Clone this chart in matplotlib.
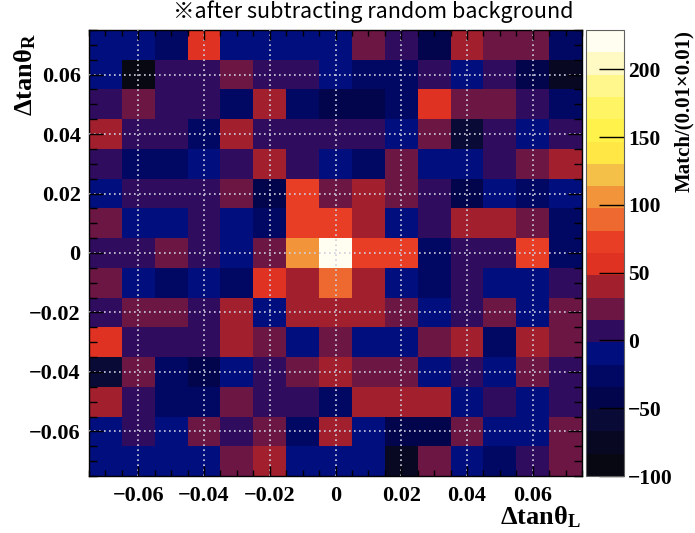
import numpy as np
import matplotlib
matplotlib.use("Agg")
import matplotlib.pyplot as plt
from matplotlib.colors import ListedColormap, BoundaryNorm
from matplotlib.ticker import MultipleLocator, FixedLocator

plt.rcParams['mathtext.fontset'] = 'custom'
plt.rcParams['mathtext.rm'] = 'Liberation Serif:bold'
plt.rcParams['mathtext.it'] = 'Liberation Serif:bold'
plt.rcParams['mathtext.bf'] = 'Liberation Serif:bold'

# bin edges (dtan theta_L on x, dtan theta_R on y)
x_edges = np.linspace(-0.075, 0.075, 16)
y_edges = np.linspace(-0.075, 0.075, 16)

# matches per bin, rows listed from top (y = 0.07) to bottom (y = -0.07)
row_p070 = [-10, -10, -26, 56, -10, -10, -10, -10, 23, 7, -42, 40, 23, 23, -26]
row_p060 = [-10, -92, 7, 7, 23, 7, 7, -10, -26, -26, 7, -10, 7, -42, -75]
row_p050 = [7, 23, 7, 7, -26, 40, -26, -42, -42, -26, 56, 23, 23, 7, -26]
row_p040 = [40, 7, 7, -26, 40, 7, 7, 7, 7, -10, 23, -59, 7, -10, 7]
row_p030 = [7, -26, -26, -10, 7, 40, 7, -10, -26, 23, -10, -10, 7, 23, 40]
row_p020 = [-10, 7, 7, 7, 23, -42, 73, 23, 40, 23, 7, -42, -10, -26, -10]
row_p010 = [23, -10, -10, 7, -10, -26, 73, 73, 40, -10, 7, 40, 40, 23, -26]
row_000 = [7, 7, 23, 7, -10, 23, 106, 228, 73, 73, -26, 7, 7, 73, -26]
row_m010 = [23, -10, -26, -10, -26, 56, 40, 89, 40, -10, -26, 7, -10, -10, 7]
row_m020 = [7, 23, 23, 7, 40, -10, 40, 40, 40, 23, -10, 7, 23, -10, 23]
row_m030 = [56, 7, 7, 7, 40, 23, -10, 23, -10, -10, 23, 40, -26, 40, 23]
row_m040 = [-59, 23, -26, -42, -10, 7, 23, 40, 23, 23, -10, 7, -10, 23, 7]
row_m050 = [40, 7, -26, -26, 23, 7, 7, -26, 40, 40, 40, -10, 7, -10, 7]
row_m060 = [-10, 7, -10, 23, 7, 23, -26, 40, -10, -42, -42, 23, -10, -10, 23]
row_m070 = [-10, -10, -10, -10, 23, 40, -10, -10, -10, -75, 23, -10, -26, 7, 23]

rows_top_to_bottom = [row_p070, row_p060, row_p050, row_p040, row_p030, row_p020,
                      row_p010, row_000, row_m010, row_m020, row_m030, row_m040,
                      row_m050, row_m060, row_m070]

z_min, z_max = -100, 229
n_levels = 20

palette = [(8, 8, 18), (8, 8, 35), (10, 10, 55), (2, 5, 75), (0, 8, 100),
           (0, 15, 125), (48, 12, 95), (108, 22, 68), (162, 32, 45), (224, 50, 35),
           (232, 62, 38), (238, 105, 48), (242, 148, 58), (244, 192, 72), (255, 232, 70),
           (255, 242, 75), (255, 245, 100), (255, 247, 140), (255, 250, 195), (255, 254, 240)]

x_ticks = [-0.06, -0.04, -0.02, 0, 0.02, 0.04, 0.06]
x_ticklabels = ['\u22120.06', '\u22120.04', '\u22120.02', '0', '0.02', '0.04', '0.06']
y_ticks = x_ticks
y_ticklabels = x_ticklabels
cb_ticks = [-100, -50, 0, 50, 100, 150, 200]
cb_ticklabels = ['\u2212100', '\u221250', '0', '50', '100', '150', '200']

Z = np.array(rows_top_to_bottom[::-1], dtype=float)

W, H = 695, 533
fig = plt.figure(figsize=(W / 100, H / 100), dpi=100)
ax = fig.add_axes([89 / W, 1 - 476 / H, 493 / W, 446 / H])
cax = fig.add_axes([586 / W, 1 - 476 / H, 38 / W, 446 / H])

cmap = ListedColormap([tuple(c / 255 for c in rgb) for rgb in palette])
levels = np.linspace(z_min, z_max, n_levels + 1)
norm = BoundaryNorm(levels, cmap.N)

mesh = ax.pcolormesh(x_edges, y_edges, Z, cmap=cmap, norm=norm)
ax.set_xlim(-0.075, 0.075)
ax.set_ylim(-0.075, 0.075)

tfont = dict(family='Liberation Serif', weight='bold', size=16)
ax.set_xticks(x_ticks)
ax.set_xticklabels(x_ticklabels, fontdict=tfont)
ax.set_yticks(y_ticks)
ax.set_yticklabels(y_ticklabels, fontdict=tfont)
ax.xaxis.set_minor_locator(MultipleLocator(0.005))
ax.yaxis.set_minor_locator(MultipleLocator(0.005))
ax.tick_params(axis='x', which='major', direction='in', length=7, width=1, top=True, bottom=True, pad=7)
ax.tick_params(axis='x', which='minor', direction='in', length=4, width=1, top=True, bottom=True)
ax.tick_params(axis='y', which='major', direction='in', length=10, width=1, left=True, right=True, pad=6)
ax.tick_params(axis='y', which='minor', direction='in', length=6, width=1, left=True, right=True)
ax.grid(True, which='major', color='#d0d0e0', linestyle=(0, (1, 2)), linewidth=1.2)
ax.set_axisbelow(False)
for s in ax.spines.values():
    s.set_linewidth(1.0)

cb = fig.colorbar(mesh, cax=cax, boundaries=levels, ticks=cb_ticks)
cb.outline.set_linewidth(0.8)
cb.outline.set_edgecolor('#606060')
cax.yaxis.set_minor_locator(FixedLocator([]))
cax.set_yticklabels(cb_ticklabels, fontdict=dict(family='Liberation Serif', weight='bold', size=15.5))
cax.tick_params(axis='y', which='major', direction='in', length=18, width=1, right=True, left=False, pad=3)

fig.text(25 / W, 1 - 33 / H, 'Δtanθ$_\\mathrm{R}$', rotation=90, ha='center', va='top',
         family='Liberation Serif', weight='bold', size=19)
fig.text(581 / W, 1 - 517 / H, 'Δtanθ$_\\mathrm{L}$', ha='right', va='center',
         family='Liberation Serif', weight='bold', size=19)
fig.text(684 / W, 1 - 30 / H, 'Match/(0.01×0.01)', rotation=90, ha='center', va='top',
         family='Liberation Serif', weight='bold', size=15)
fig.text(373 / W, 1 - 12 / H, '※after subtracting random background', ha='center', va='center',
         family=['Noto Sans CJK JP', 'DejaVu Sans'], size=15.5)

fig.savefig('out.png', dpi=100)
